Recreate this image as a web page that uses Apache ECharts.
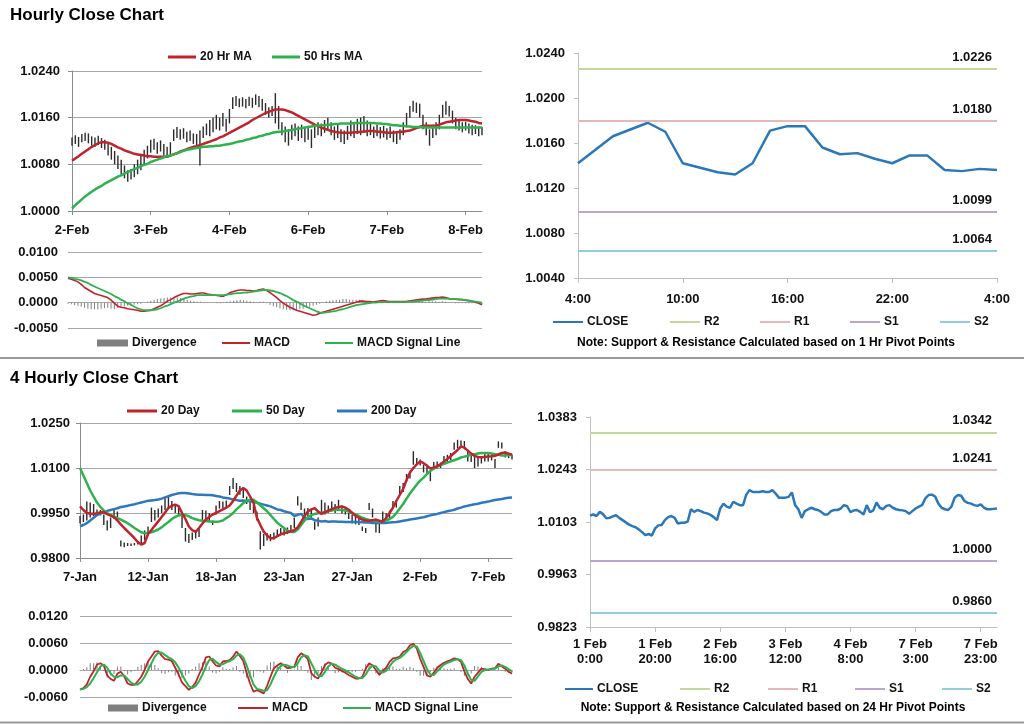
<!DOCTYPE html>
<html><head><meta charset="utf-8">
<script src="https://cdn.jsdelivr.net/npm/echarts@6/dist/echarts.min.js"></script>
<style>html,body{margin:0;padding:0;background:#fff}#c{width:1024px;height:724px}</style>
</head><body><div id="c"></div>
<script>
// ---------- Hourly chart (top-left) ----------
const tlTicks = ['2-Feb','3-Feb','4-Feb','6-Feb','7-Feb','8-Feb'];
const tlLow = [
1.0112,1.0115,1.0110,1.0118,1.0120,1.0116,1.0112,1.0110,1.0113,1.0108,
1.0105,1.0095,1.0088,1.0080,1.0072,1.0062,1.0056,1.0050,1.0054,1.0058,
1.0063,1.0070,1.0078,1.0090,1.0100,1.0105,1.0098,1.0102,1.0095,1.0092,
1.0097,1.0120,1.0125,1.0122,1.0124,1.0118,1.0120,1.0115,1.0112,1.0078,
1.0125,1.0130,1.0128,1.0135,1.0140,1.0138,1.0145,1.0136,1.0150,1.0175,
1.0180,1.0178,1.0179,1.0176,1.0180,1.0177,1.0182,1.0178,1.0172,1.0165,
1.0160,1.0163,1.0150,1.0140,1.0130,1.0118,1.0112,1.0122,1.0128,1.0120,
1.0125,1.0118,1.0122,1.0108,1.0125,1.0130,1.0128,1.0134,1.0138,1.0130,
1.0122,1.0125,1.0118,1.0115,1.0122,1.0128,1.0125,1.0132,1.0130,1.0135,
1.0128,1.0130,1.0125,1.0128,1.0124,1.0126,1.0122,1.0125,1.0118,1.0115,
1.0122,1.0130,1.0145,1.0160,1.0170,1.0168,1.0160,1.0140,1.0130,1.0112,
1.0125,1.0130,1.0140,1.0160,1.0165,1.0162,1.0150,1.0140,1.0138,1.0135,
1.0138,1.0133,1.0130,1.0132,1.0128,1.0130];
const tlHigh = [
1.0126,1.0130,1.0127,1.0132,1.0134,1.0133,1.0128,1.0126,1.0129,1.0125,
1.0122,1.0118,1.0110,1.0103,1.0095,1.0088,1.0078,1.0070,1.0072,1.0080,
1.0088,1.0098,1.0105,1.0112,1.0122,1.0124,1.0118,1.0121,1.0115,1.0110,
1.0118,1.0140,1.0144,1.0140,1.0142,1.0136,1.0138,1.0133,1.0132,1.0138,
1.0145,1.0150,1.0156,1.0160,1.0165,1.0160,1.0168,1.0158,1.0175,1.0195,
1.0197,1.0193,1.0195,1.0192,1.0196,1.0194,1.0200,1.0197,1.0192,1.0185,
1.0178,1.0180,1.0202,1.0180,1.0152,1.0145,1.0140,1.0148,1.0150,1.0145,
1.0148,1.0142,1.0146,1.0140,1.0148,1.0152,1.0150,1.0156,1.0160,1.0152,
1.0145,1.0150,1.0140,1.0138,1.0146,1.0155,1.0150,1.0158,1.0160,1.0163,
1.0155,1.0150,1.0145,1.0148,1.0144,1.0146,1.0142,1.0145,1.0138,1.0135,
1.0140,1.0152,1.0168,1.0180,1.0189,1.0186,1.0184,1.0165,1.0152,1.0140,
1.0148,1.0152,1.0165,1.0182,1.0188,1.0180,1.0172,1.0160,1.0155,1.0152,
1.0153,1.0150,1.0148,1.0147,1.0145,1.0144];
const tlMa20 = [
1.0086,1.0090,1.0094,1.0098,1.0102,1.0106,1.0110,1.0113,1.0116,1.0118,
1.0118,1.0117,1.0115,1.0112,1.0109,1.0107,1.0104,1.0102,1.0100,1.0098,
1.0097,1.0096,1.0095,1.0094,1.0094,1.0093,1.0093,1.0093,1.0093,1.0093,
1.0095,1.0097,1.0099,1.0102,1.0104,1.0106,1.0108,1.0110,1.0111,1.0113,
1.0115,1.0117,1.0119,1.0121,1.0123,1.0126,1.0128,1.0131,1.0134,1.0137,
1.0140,1.0143,1.0146,1.0149,1.0152,1.0156,1.0159,1.0162,1.0165,1.0168,
1.0170,1.0172,1.0174,1.0174,1.0174,1.0173,1.0171,1.0169,1.0166,1.0163,
1.0160,1.0157,1.0154,1.0151,1.0148,1.0146,1.0143,1.0141,1.0139,1.0137,
1.0136,1.0135,1.0134,1.0134,1.0134,1.0134,1.0135,1.0135,1.0136,1.0136,
1.0137,1.0137,1.0137,1.0136,1.0136,1.0135,1.0134,1.0134,1.0134,1.0135,
1.0136,1.0136,1.0137,1.0138,1.0140,1.0142,1.0144,1.0146,1.0146,1.0146,
1.0146,1.0146,1.0148,1.0150,1.0152,1.0153,1.0154,1.0155,1.0156,1.0156,
1.0156,1.0155,1.0154,1.0153,1.0151,1.0150];
const tlMa50 = [
1.0004,1.0010,1.0015,1.0020,1.0025,1.0029,1.0033,1.0037,1.0040,1.0043,
1.0047,1.0050,1.0053,1.0056,1.0059,1.0061,1.0064,1.0067,1.0069,1.0072,
1.0074,1.0077,1.0079,1.0081,1.0084,1.0086,1.0088,1.0090,1.0092,1.0094,
1.0095,1.0097,1.0099,1.0101,1.0103,1.0105,1.0106,1.0107,1.0108,1.0109,
1.0110,1.0110,1.0111,1.0111,1.0112,1.0112,1.0113,1.0114,1.0115,1.0116,
1.0118,1.0119,1.0120,1.0122,1.0123,1.0125,1.0126,1.0128,1.0129,1.0131,
1.0132,1.0134,1.0135,1.0136,1.0136,1.0137,1.0138,1.0139,1.0140,1.0141,
1.0142,1.0143,1.0144,1.0145,1.0146,1.0146,1.0147,1.0147,1.0148,1.0148,
1.0149,1.0149,1.0150,1.0150,1.0150,1.0150,1.0151,1.0151,1.0151,1.0151,
1.0151,1.0151,1.0151,1.0150,1.0150,1.0149,1.0149,1.0148,1.0147,1.0147,
1.0146,1.0146,1.0145,1.0145,1.0144,1.0144,1.0144,1.0143,1.0143,1.0143,
1.0143,1.0143,1.0143,1.0143,1.0143,1.0143,1.0143,1.0143,1.0143,1.0143,
1.0143,1.0143,1.0143,1.0143,1.0143,1.0143];
const tmMacd = [
0.0048,0.0046,0.0044,0.0041,0.0036,0.0030,0.0026,0.0022,0.0018,0.0016,
0.0014,0.0012,0.0010,0.0005,-0.0001,-0.0007,-0.0009,-0.0010,-0.0012,-0.0013,
-0.0014,-0.0015,-0.0017,-0.0017,-0.0016,-0.0015,-0.0012,-0.0009,-0.0006,-0.0002,
0.0003,0.0006,0.0010,0.0013,0.0016,0.0018,0.0018,0.0017,0.0017,0.0018,
0.0019,0.0019,0.0017,0.0016,0.0015,0.0014,0.0013,0.0013,0.0016,0.0020,
0.0022,0.0024,0.0025,0.0025,0.0024,0.0024,0.0023,0.0024,0.0026,0.0027,
0.0024,0.0020,0.0015,0.0010,0.0004,-0.0001,-0.0005,-0.0009,-0.0012,-0.0015,
-0.0017,-0.0019,-0.0021,-0.0023,-0.0025,-0.0024,-0.0021,-0.0019,-0.0017,-0.0015,
-0.0013,-0.0011,-0.0009,-0.0007,-0.0005,-0.0003,-0.0001,0.0001,0.0003,0.0003,
0.0002,0.0002,0.0001,0.0002,0.0003,0.0004,0.0003,0.0002,0.0002,0.0002,
0.0002,0.0002,0.0002,0.0003,0.0004,0.0005,0.0006,0.0007,0.0007,0.0008,
0.0009,0.0010,0.0010,0.0011,0.0010,0.0008,0.0007,0.0007,0.0006,0.0006,
0.0005,0.0004,0.0003,0.0001,-0.0001,-0.0004];
const tmSig = [
0.0050,0.0049,0.0047,0.0046,0.0044,0.0041,0.0039,0.0035,0.0032,0.0029,
0.0026,0.0023,0.0020,0.0017,0.0013,0.0010,0.0006,0.0003,-0.0001,-0.0004,
-0.0008,-0.0011,-0.0013,-0.0015,-0.0015,-0.0015,-0.0014,-0.0013,-0.0011,-0.0008,
-0.0006,-0.0003,0.0000,0.0002,0.0005,0.0008,0.0010,0.0012,0.0013,0.0015,
0.0015,0.0015,0.0015,0.0015,0.0015,0.0015,0.0015,0.0015,0.0016,0.0017,
0.0018,0.0019,0.0019,0.0020,0.0020,0.0021,0.0022,0.0023,0.0024,0.0025,
0.0025,0.0024,0.0023,0.0021,0.0019,0.0016,0.0013,0.0009,0.0005,0.0002,
-0.0001,-0.0005,-0.0008,-0.0011,-0.0014,-0.0017,-0.0019,-0.0020,-0.0019,-0.0018,
-0.0017,-0.0016,-0.0014,-0.0013,-0.0011,-0.0009,-0.0007,-0.0005,-0.0004,-0.0003,
-0.0002,-0.0001,0.0000,0.0000,0.0001,0.0001,0.0001,0.0001,0.0001,0.0001,
0.0001,0.0001,0.0001,0.0002,0.0002,0.0003,0.0003,0.0004,0.0005,0.0005,
0.0006,0.0007,0.0008,0.0008,0.0008,0.0008,0.0007,0.0007,0.0007,0.0006,
0.0005,0.0004,0.0003,0.0002,0.0001,0.0000];
const tmDiv = [
-0.0002,-0.0003,-0.0005,-0.0006,-0.0008,-0.0010,-0.0012,-0.0013,-0.0013,-0.0013,
-0.0012,-0.0011,-0.0010,-0.0012,-0.0013,-0.0010,-0.0008,-0.0007,-0.0006,-0.0005,
-0.0004,-0.0003,-0.0002,0.0000,0.0002,0.0004,0.0006,0.0007,0.0008,0.0009,
0.0010,0.0010,0.0011,0.0010,0.0009,0.0008,0.0006,0.0004,0.0003,0.0002,
0.0002,0.0001,0.0001,0.0000,0.0000,-0.0001,-0.0001,0.0001,0.0002,0.0003,
0.0004,0.0005,0.0006,0.0005,0.0004,0.0003,0.0002,0.0001,0.0002,0.0002,
-0.0001,-0.0004,-0.0007,-0.0009,-0.0011,-0.0013,-0.0014,-0.0015,-0.0015,-0.0014,
-0.0013,-0.0012,-0.0010,-0.0008,-0.0006,-0.0004,-0.0002,0.0001,0.0003,0.0004,
0.0005,0.0006,0.0006,0.0007,0.0007,0.0006,0.0006,0.0006,0.0006,0.0005,
0.0004,0.0003,0.0002,0.0002,0.0001,0.0001,0.0001,0.0001,0.0001,0.0001,
0.0001,0.0001,0.0001,0.0001,0.0002,0.0002,0.0003,0.0003,0.0002,0.0003,
0.0003,0.0003,0.0002,0.0003,0.0002,0.0000,0.0000,-0.0001,-0.0001,-0.0001,
-0.0001,-0.0001,-0.0001,-0.0001,-0.0002,-0.0003];

// ---------- Hourly pivots (top-right) ----------
const trHours = ['4:00','5:00','6:00','7:00','8:00','9:00','10:00','11:00','12:00','13:00','14:00','15:00','16:00','17:00','18:00','19:00','20:00','21:00','22:00','23:00','0:00','1:00','2:00','3:00','4:00'];
const trClose = [1.0142,1.0154,1.0166,1.0172,1.0178,1.0170,1.0142,1.0138,1.0134,1.0132,1.0142,1.0171,1.0175,1.0175,1.0156,1.0150,1.0151,1.0146,1.0142,1.0149,1.0149,1.0136,1.0135,1.0137,1.0136];
const trPivots = [1.0226, 1.0180, 1.0099, 1.0064]; // R2, R1, S1, S2

// ---------- 4 Hourly chart (bottom-left) ----------
const blTicks = ['7-Jan','12-Jan','18-Jan','23-Jan','27-Jan','2-Feb','7-Feb'];
const blLow = [
0.9915,0.9920,0.9925,0.9935,0.9940,0.9940,0.9942,0.9910,0.9892,0.9900,
0.9930,0.9928,0.9838,0.9836,0.9840,0.9840,0.9842,0.9845,0.9848,0.9860,
0.9875,0.9920,0.9925,0.9935,0.9950,0.9960,0.9965,0.9960,0.9950,0.9944,
0.9900,0.9855,0.9850,0.9860,0.9865,0.9870,0.9925,0.9930,0.9920,0.9910,
0.9945,0.9965,0.9967,0.9970,1.0010,1.0030,1.0020,1.0011,1.0000,0.9980,
0.9960,0.9950,0.9925,0.9828,0.9840,0.9858,0.9856,0.9862,0.9870,0.9878,
0.9875,0.9880,0.9885,0.9900,0.9975,0.9960,0.9935,0.9940,0.9935,0.9894,
0.9905,0.9950,0.9945,0.9950,0.9955,0.9950,0.9960,0.9948,0.9945,0.9930,
0.9915,0.9912,0.9910,0.9890,0.9883,0.9960,0.9935,0.9885,0.9883,0.9925,
0.9922,0.9930,0.9965,0.9968,1.0011,1.0020,1.0056,1.0065,1.0111,1.0112,
1.0108,1.0085,1.0083,1.0056,1.0094,1.0098,1.0100,1.0117,1.0120,1.0125,
1.0161,1.0165,1.0168,1.0162,1.0122,1.0120,1.0100,1.0105,1.0115,1.0122,
1.0122,1.0125,1.0100,1.0167,1.0165,1.0135,1.0133,1.0128];
const blHigh = [
0.9940,0.9945,0.9988,0.9985,0.9980,0.9962,0.9960,0.9945,0.9925,0.9935,
0.9960,0.9955,0.9858,0.9852,0.9850,0.9848,0.9850,0.9855,0.9875,0.9892,
0.9905,0.9968,0.9960,0.9965,0.9975,1.0000,1.0006,0.9990,0.9978,0.9970,
0.9940,0.9900,0.9880,0.9885,0.9889,0.9900,0.9960,0.9958,0.9950,0.9925,
0.9975,0.9990,0.9988,0.9992,1.0040,1.0067,1.0050,1.0040,1.0030,1.0005,
0.9995,0.9975,0.9955,0.9889,0.9880,0.9883,0.9880,0.9885,0.9895,0.9900,
0.9898,0.9902,0.9910,0.9935,1.0006,0.9985,0.9965,0.9967,0.9960,0.9922,
0.9935,0.9994,0.9985,0.9975,0.9988,0.9980,0.9994,0.9975,0.9970,0.9950,
0.9944,0.9940,0.9938,0.9905,0.9900,0.9983,0.9965,0.9922,0.9920,0.9955,
0.9950,0.9958,0.9990,0.9988,1.0040,1.0050,1.0080,1.0089,1.0156,1.0133,
1.0128,1.0111,1.0105,1.0089,1.0120,1.0122,1.0118,1.0140,1.0144,1.0150,
1.0185,1.0194,1.0192,1.0190,1.0156,1.0150,1.0139,1.0135,1.0140,1.0150,
1.0148,1.0145,1.0130,1.0189,1.0185,1.0156,1.0150,1.0145];
const blMa20 = [
0.9972,0.9960,0.9950,0.9948,0.9947,0.9949,0.9952,0.9953,0.9946,0.9941,
0.9936,0.9925,0.9912,0.9900,0.9889,0.9878,0.9866,0.9853,0.9845,0.9850,
0.9880,0.9893,0.9908,0.9922,0.9937,0.9952,0.9967,0.9974,0.9978,0.9973,
0.9950,0.9930,0.9905,0.9893,0.9887,0.9900,0.9915,0.9928,0.9937,0.9945,
0.9950,0.9956,0.9962,0.9968,0.9975,0.9990,1.0008,1.0025,1.0033,1.0025,
1.0005,0.9985,0.9935,0.9910,0.9888,0.9875,0.9866,0.9866,0.9873,0.9879,
0.9883,0.9886,0.9889,0.9893,0.9902,0.9920,0.9940,0.9955,0.9962,0.9966,
0.9955,0.9947,0.9952,0.9958,0.9963,0.9967,0.9970,0.9972,0.9968,0.9961,
0.9950,0.9941,0.9934,0.9928,0.9925,0.9924,0.9926,0.9928,0.9924,0.9922,
0.9933,0.9950,0.9968,0.9990,1.0010,1.0030,1.0060,1.0085,1.0100,1.0112,
1.0122,1.0116,1.0108,1.0098,1.0102,1.0106,1.0112,1.0122,1.0130,1.0140,
1.0150,1.0160,1.0172,1.0168,1.0158,1.0148,1.0140,1.0137,1.0136,1.0137,
1.0138,1.0139,1.0141,1.0145,1.0150,1.0152,1.0148,1.0144];
const blMa50 = [
1.0100,1.0075,1.0050,1.0025,1.0005,0.9985,0.9970,0.9958,0.9950,0.9944,
0.9938,0.9933,0.9928,0.9922,0.9916,0.9908,0.9900,0.9893,0.9886,0.9883,
0.9884,0.9886,0.9890,0.9895,0.9902,0.9912,0.9920,0.9930,0.9937,0.9942,
0.9944,0.9943,0.9939,0.9933,0.9929,0.9926,0.9924,0.9923,0.9922,0.9921,
0.9921,0.9922,0.9925,0.9933,0.9940,0.9950,0.9962,0.9972,0.9983,0.9990,
0.9994,0.9994,0.9986,0.9976,0.9966,0.9956,0.9943,0.9930,0.9918,0.9908,
0.9900,0.9891,0.9887,0.9887,0.9895,0.9910,0.9925,0.9936,0.9943,0.9947,
0.9949,0.9951,0.9953,0.9956,0.9959,0.9961,0.9961,0.9960,0.9958,0.9955,
0.9950,0.9945,0.9940,0.9934,0.9930,0.9927,0.9924,0.9923,0.9922,0.9922,
0.9925,0.9930,0.9937,0.9950,0.9965,0.9980,0.9998,1.0015,1.0030,1.0045,
1.0058,1.0068,1.0080,1.0090,1.0098,1.0104,1.0110,1.0114,1.0118,1.0122,
1.0126,1.0130,1.0135,1.0138,1.0141,1.0144,1.0146,1.0148,1.0150,1.0150,
1.0150,1.0148,1.0146,1.0144,1.0142,1.0142,1.0143,1.0144];
const blMa200 = [
0.9906,0.9910,0.9916,0.9925,0.9934,0.9943,0.9948,0.9952,0.9957,0.9960,
0.9963,0.9966,0.9970,0.9972,0.9974,0.9977,0.9979,0.9982,0.9985,0.9988,
0.9991,0.9992,0.9993,0.9995,0.9998,1.0002,1.0006,1.0010,1.0013,1.0016,
1.0017,1.0017,1.0015,1.0013,1.0012,1.0011,1.0011,1.0010,1.0010,1.0009,
1.0007,1.0005,1.0002,1.0000,0.9998,0.9995,0.9993,0.9991,0.9992,0.9990,
0.9989,0.9987,0.9984,0.9981,0.9978,0.9975,0.9972,0.9967,0.9962,0.9960,
0.9956,0.9953,0.9950,0.9940,0.9944,0.9947,0.9935,0.9930,0.9932,0.9926,
0.9924,0.9922,0.9923,0.9921,0.9922,0.9922,0.9921,0.9921,0.9920,0.9920,
0.9920,0.9920,0.9920,0.9919,0.9918,0.9918,0.9917,0.9917,0.9917,0.9917,
0.9917,0.9918,0.9919,0.9920,0.9922,0.9924,0.9926,0.9928,0.9930,0.9932,
0.9934,0.9936,0.9939,0.9942,0.9945,0.9947,0.9950,0.9953,0.9956,0.9958,
0.9961,0.9965,0.9968,0.9972,0.9974,0.9977,0.9979,0.9981,0.9984,0.9986,
0.9988,0.9991,0.9993,0.9995,0.9997,0.9999,1.0001,1.0002];
const bmMacd = [
-0.0044,-0.0040,-0.0032,-0.0015,-0.0003,0.0012,0.0015,0.0010,-0.0012,-0.0020,
-0.0024,-0.0008,-0.0004,-0.0014,-0.0030,-0.0033,-0.0033,-0.0025,-0.0015,0.0000,
0.0019,0.0030,0.0041,0.0042,0.0032,0.0024,0.0023,0.0020,0.0005,-0.0010,
-0.0028,-0.0036,-0.0044,-0.0038,-0.0028,-0.0010,0.0007,0.0028,0.0030,0.0019,
0.0010,0.0008,0.0019,0.0020,0.0022,0.0030,0.0041,0.0031,0.0020,-0.0007,
-0.0030,-0.0048,-0.0045,-0.0048,-0.0052,-0.0035,-0.0015,0.0004,0.0010,0.0015,
0.0010,0.0004,0.0005,0.0007,0.0028,0.0037,0.0032,0.0024,-0.0007,-0.0015,
-0.0019,-0.0005,0.0011,0.0017,0.0014,0.0005,0.0002,-0.0002,-0.0006,-0.0011,
-0.0015,-0.0019,-0.0019,-0.0015,0.0003,0.0015,0.0010,0.0000,-0.0011,-0.0002,
0.0005,0.0018,0.0026,0.0027,0.0030,0.0040,0.0044,0.0055,0.0058,0.0048,
0.0025,0.0007,-0.0012,-0.0015,-0.0006,0.0005,0.0011,0.0016,0.0019,0.0022,
0.0026,0.0024,0.0018,-0.0003,-0.0020,-0.0030,-0.0015,-0.0006,0.0003,0.0002,
0.0000,0.0003,0.0004,0.0014,0.0008,0.0003,-0.0004,-0.0008];
const bmSig = [
-0.0043,-0.0042,-0.0038,-0.0030,-0.0018,-0.0005,0.0008,0.0012,0.0005,-0.0008,
-0.0015,-0.0016,-0.0012,-0.0012,-0.0020,-0.0028,-0.0032,-0.0032,-0.0026,-0.0015,
0.0000,0.0015,0.0030,0.0038,0.0039,0.0033,0.0028,0.0024,0.0017,0.0005,
-0.0010,-0.0024,-0.0036,-0.0040,-0.0036,-0.0025,-0.0010,0.0008,0.0022,0.0025,
0.0018,0.0012,0.0013,0.0017,0.0020,0.0024,0.0032,0.0035,0.0028,0.0010,
-0.0012,-0.0032,-0.0042,-0.0044,-0.0046,-0.0045,-0.0032,-0.0015,0.0000,0.0009,
0.0012,0.0010,0.0007,0.0006,0.0015,0.0028,0.0033,0.0030,0.0015,0.0000,
-0.0012,-0.0014,-0.0004,0.0008,0.0014,0.0012,0.0007,0.0003,-0.0001,-0.0005,
-0.0010,-0.0015,-0.0018,-0.0018,-0.0010,0.0003,0.0010,0.0008,-0.0002,-0.0006,
-0.0002,0.0008,0.0018,0.0024,0.0027,0.0033,0.0040,0.0048,0.0054,0.0052,
0.0038,0.0020,0.0002,-0.0010,-0.0011,-0.0003,0.0005,0.0012,0.0016,0.0019,
0.0022,0.0024,0.0022,0.0010,-0.0008,-0.0022,-0.0024,-0.0014,-0.0004,0.0000,
0.0001,0.0002,0.0003,0.0008,0.0010,0.0007,0.0002,-0.0003];
const bmDiv = [
-0.0001,0.0002,0.0006,0.0015,0.0015,0.0017,0.0007,-0.0002,-0.0017,-0.0012,
-0.0009,0.0008,0.0008,-0.0002,-0.0010,-0.0005,-0.0001,0.0007,0.0011,0.0015,
0.0019,0.0015,0.0011,0.0004,-0.0007,-0.0009,-0.0005,-0.0004,-0.0012,-0.0015,
-0.0018,-0.0012,-0.0008,0.0002,0.0008,0.0015,0.0017,0.0020,0.0008,-0.0006,
-0.0008,-0.0004,0.0006,0.0003,0.0002,0.0006,0.0009,-0.0004,-0.0008,-0.0017,
-0.0018,-0.0016,-0.0003,-0.0004,-0.0006,0.0010,0.0017,0.0019,0.0010,0.0006,
-0.0002,-0.0006,-0.0002,0.0001,0.0013,0.0009,-0.0001,-0.0006,-0.0022,-0.0015,
-0.0007,0.0009,0.0015,0.0009,0.0000,-0.0007,-0.0005,-0.0005,-0.0005,-0.0006,
-0.0005,-0.0004,-0.0001,0.0003,0.0013,0.0012,0.0000,-0.0008,-0.0009,0.0004,
0.0007,0.0010,0.0008,0.0003,0.0003,0.0007,0.0004,0.0007,0.0004,-0.0004,
-0.0013,-0.0013,-0.0014,-0.0005,0.0005,0.0008,0.0006,0.0004,0.0003,0.0003,
0.0004,0.0000,-0.0004,-0.0013,-0.0012,-0.0008,0.0009,0.0008,0.0007,0.0002,
-0.0001,0.0001,0.0001,0.0006,-0.0002,-0.0004,-0.0006,-0.0005];

// ---------- 4 Hourly pivots (bottom-right) ----------
const brTicks = ['1 Feb\n0:00','1 Feb\n20:00','2 Feb\n16:00','3 Feb\n12:00','4 Feb\n8:00','7 Feb\n3:00','7 Feb\n23:00'];
const brClose = [
1.0120,1.0123,1.0119,1.0130,1.0124,1.0113,1.0114,1.0118,1.0121,1.0114,
1.0108,1.0102,1.0096,1.0092,1.0089,1.0083,1.0076,1.0068,1.0071,1.0067,
1.0086,1.0094,1.0095,1.0108,1.0116,1.0119,1.0114,1.0099,1.0101,1.0101,
1.0104,1.0137,1.0130,1.0135,1.0132,1.0128,1.0126,1.0122,1.0116,1.0108,
1.0139,1.0152,1.0144,1.0141,1.0157,1.0152,1.0148,1.0148,1.0176,1.0188,
1.0183,1.0183,1.0183,1.0185,1.0183,1.0183,1.0188,1.0179,1.0168,1.0168,
1.0168,1.0170,1.0182,1.0148,1.0137,1.0114,1.0132,1.0137,1.0141,1.0137,
1.0135,1.0130,1.0123,1.0123,1.0132,1.0135,1.0135,1.0139,1.0148,1.0145,
1.0129,1.0134,1.0135,1.0130,1.0123,1.0148,1.0129,1.0134,1.0155,1.0141,
1.0137,1.0146,1.0148,1.0141,1.0137,1.0135,1.0134,1.0132,1.0125,1.0132,
1.0139,1.0144,1.0148,1.0166,1.0175,1.0176,1.0171,1.0152,1.0141,1.0137,
1.0135,1.0144,1.0168,1.0175,1.0173,1.0159,1.0154,1.0152,1.0148,1.0146,
1.0150,1.0141,1.0137,1.0137,1.0138,1.0139];
const brPivots = [1.0342, 1.0241, 1.0000, 0.9860]; // R2, R1, S1, S2

const FONT = "'Liberation Sans', Arial, Helvetica, sans-serif";
const RED = '#c0232c', GREEN = '#2db24f', BLUE = '#2e78c0', CLOSEC = '#2a78b8', GREY = '#7f7f7f';
const PIVC = ['#c4d69b', '#e6b9b8', '#bba5cc', '#93cddd'];
const PIVN = ['R2', 'R1', 'S1', 'S2'];
const idx = n => Array.from({length: n}, (_, i) => String(i));
const fmt4 = v => Number(v).toFixed(4);
const lbl = {color: '#111', fontSize: 13, fontWeight: 'bold', fontFamily: FONT};
const AX = '#8c8c8c', GRIDC = '#a6a6a6';

function hlBars(params, api) {
  const a = api.coord([api.value(0), api.value(1)]);
  const b = api.coord([api.value(0), api.value(2)]);
  return {type: 'line', shape: {x1: a[0], y1: a[1], x2: b[0], y2: b[1]}, style: {stroke: '#2b2b2b', lineWidth: 1.4}};
}
function line(name, ax, data, color, width) {
  return {name, type: 'line', xAxisIndex: ax, yAxisIndex: ax, data, color, symbol: 'none', showSymbol: false,
    lineStyle: {color, width}, z: 3};
}
function pivot(k, ax, value) {
  const color = PIVC[k];
  return {name: PIVN[k], type: 'line', xAxisIndex: ax, yAxisIndex: ax, data: [], color, symbol: 'none',
    lineStyle: {color, width: 2},
    markLine: {silent: true, symbol: ['none', 'none'], animation: false, precision: 4,
      lineStyle: {color, width: 2, type: 'solid'},
      label: {show: true, position: 'insideEndTop', distance: 5, formatter: p => fmt4(p.value),
        color: '#111', fontSize: 13, fontWeight: 'bold', fontFamily: FONT},
      data: [{yAxis: value}]}};
}
function leg(name, left, top, w, h) {
  return {data: [name], left, top, padding: 0, itemWidth: w, itemHeight: h, icon: 'rect', selectedMode: false,
    textStyle: {color: '#111', fontSize: 12, fontWeight: 'bold', fontFamily: FONT, padding: [0, 0, 0, -1]}};
}
function catX(grid, n, every, ticks, showAxis, extra) {
  return Object.assign({gridIndex: grid, type: 'category', boundaryGap: false, data: idx(n),
    axisLine: {show: showAxis, lineStyle: {color: AX}},
    axisTick: {show: showAxis, interval: every - 1, length: 4, lineStyle: {color: AX}},
    axisLabel: {show: showAxis, interval: every - 1, margin: 13, ...lbl, formatter: v => ticks[Math.round(+v / every)] || ''},
    splitLine: {show: false}}, extra || {});
}
function valY(grid, min, max, interval, opt) {
  return {gridIndex: grid, type: 'value', min, max, interval,
    axisLine: {show: opt.axis, lineStyle: {color: opt.axisColor || AX}},
    axisTick: {show: opt.axis, length: 4, lineStyle: {color: opt.axisColor || AX}},
    axisLabel: {margin: opt.margin, ...lbl, formatter: fmt4},
    splitLine: {show: opt.split, lineStyle: {color: GRIDC}}};
}

const chart = echarts.init(document.getElementById('c'), null, {renderer: 'canvas'});
chart.setOption({
  animation: false,
  backgroundColor: '#fff',
  textStyle: {fontFamily: FONT},
  grid: [
    {left: 72, right: 542, top: 71, height: 140},
    {left: 68, right: 542, top: 252, height: 76},
    {left: 578, right: 27, top: 53, height: 225},
    {left: 80, right: 512, top: 423, height: 135},
    {left: 80, right: 512, top: 616, height: 81},
    {left: 590, right: 27, top: 417, height: 210}
  ],
  xAxis: [
    catX(0, tlLow.length, 24, tlTicks, true),
    catX(1, tmMacd.length, 24, tlTicks, false),
    catX(2, trClose.length, 6, [], true, {axisLine: {show: true, lineStyle: {color: '#bfbfbf'}},
      axisTick: {show: true, interval: 5, length: 5, lineStyle: {color: '#bfbfbf'}},
      axisLabel: {interval: 5, margin: 15, ...lbl, formatter: v => trHours[+v]}}),
    catX(3, blLow.length, 20, blTicks, true),
    catX(4, bmMacd.length, 20, blTicks, false),
    catX(5, brClose.length, 20, brTicks, true, {axisLine: {show: true, lineStyle: {color: '#bfbfbf'}},
      axisTick: {show: true, interval: 19, length: 5, lineStyle: {color: '#bfbfbf'}},
      axisLabel: {interval: 19, margin: 10, ...lbl, lineHeight: 15, formatter: v => brTicks[Math.round(+v / 20)] || ''}})
  ],
  yAxis: [
    valY(0, 1.0000, 1.0240, 0.008, {axis: true, split: true, margin: 12}),
    valY(1, -0.005, 0.010, 0.005, {axis: false, split: true, margin: 10}),
    valY(2, 1.0040, 1.0240, 0.004, {axis: true, split: false, margin: 13, axisColor: '#bfbfbf'}),
    valY(3, 0.9800, 1.0250, 0.015, {axis: true, split: true, margin: 10}),
    valY(4, -0.006, 0.012, 0.006, {axis: false, split: true, margin: 12}),
    valY(5, 0.9823, 1.0383, 0.014, {axis: true, split: false, margin: 13, axisColor: '#bfbfbf'})
  ],
  legend: [
    leg('20 Hr MA', 168, 51, 28, 3), leg('50 Hrs MA', 272, 51, 28, 3),
    leg('Divergence', 97, 337, 31, 7), leg('MACD', 222, 337, 28, 2), leg('MACD Signal Line', 325, 337, 28, 2),
    leg('CLOSE', 553, 316, 30, 2), leg('R2', 670, 316, 30, 2), leg('R1', 760, 316, 30, 2), leg('S1', 850, 316, 30, 2), leg('S2', 940, 316, 30, 2),
    leg('20 Day', 127, 405, 30, 3), leg('50 Day', 232, 405, 30, 3), leg('200 Day', 337, 405, 30, 3),
    leg('Divergence', 108, 702, 30, 7), leg('MACD', 238, 702, 30, 2), leg('MACD Signal Line', 343, 702, 28, 2),
    leg('CLOSE', 565, 683, 28, 2), leg('R2', 680, 683, 30, 2), leg('R1', 768, 683, 30, 2), leg('S1', 855, 683, 30, 2), leg('S2', 942, 683, 30, 2)
  ],
  series: [
    {type: 'custom', xAxisIndex: 0, yAxisIndex: 0, renderItem: hlBars, encode: {x: 0, y: [1, 2]},
      data: tlLow.map((l, i) => [i, l, tlHigh[i]]), z: 2},
    line('20 Hr MA', 0, tlMa20, RED, 2.5),
    line('50 Hrs MA', 0, tlMa50, GREEN, 2.5),
    {name: 'Divergence', type: 'bar', xAxisIndex: 1, yAxisIndex: 1, data: tmDiv, color: GREY, barWidth: 1},
    line('MACD', 1, tmMacd, RED, 1.6),
    line('MACD Signal Line', 1, tmSig, GREEN, 1.8),
    line('CLOSE', 2, trClose, CLOSEC, 2.5),
    pivot(0, 2, trPivots[0]), pivot(1, 2, trPivots[1]), pivot(2, 2, trPivots[2]), pivot(3, 2, trPivots[3]),
    {type: 'custom', xAxisIndex: 3, yAxisIndex: 3, renderItem: hlBars, encode: {x: 0, y: [1, 2]},
      data: blLow.map((l, i) => [i, l, blHigh[i]]), z: 2},
    line('200 Day', 3, blMa200, BLUE, 2.5),
    line('50 Day', 3, blMa50, GREEN, 2.5),
    line('20 Day', 3, blMa20, RED, 2.5),
    {name: 'Divergence', type: 'bar', xAxisIndex: 4, yAxisIndex: 4, data: bmDiv, color: GREY, barWidth: 1},
    line('MACD', 4, bmMacd, RED, 1.8),
    line('MACD Signal Line', 4, bmSig, GREEN, 2),
    line('CLOSE', 5, brClose, CLOSEC, 2.5),
    pivot(0, 5, brPivots[0]), pivot(1, 5, brPivots[1]), pivot(2, 5, brPivots[2]), pivot(3, 5, brPivots[3])
  ],
  graphic: [
    {type: 'text', left: 10, top: 7, style: {text: 'Hourly Close Chart', fill: '#000', font: 'bold 17px ' + FONT}},
    {type: 'text', left: 10, top: 370, style: {text: '4 Hourly Close Chart', fill: '#000', font: 'bold 17px ' + FONT}},
    {type: 'text', x: 766, y: 343, style: {text: 'Note: Support & Resistance Calculated based on 1 Hr Pivot Points',
      fill: '#000', font: 'bold 12px ' + FONT, align: 'center', verticalAlign: 'middle'}},
    {type: 'text', x: 773, y: 708, style: {text: 'Note: Support & Resistance Calculated based on 24 Hr Pivot Points',
      fill: '#000', font: 'bold 12px ' + FONT, align: 'center', verticalAlign: 'middle'}},
    {type: 'line', shape: {x1: 0, y1: 358, x2: 1024, y2: 358}, style: {stroke: '#9a9a9a', lineWidth: 2}},
    {type: 'line', shape: {x1: 0, y1: 722.5, x2: 1024, y2: 722.5}, style: {stroke: '#9a9a9a', lineWidth: 2}}
  ]
});
</script></body></html>
